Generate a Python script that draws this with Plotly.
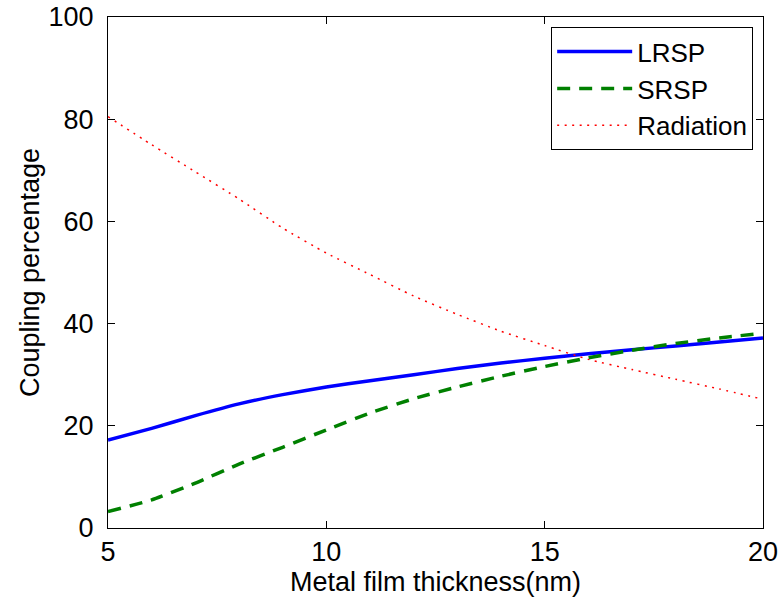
import plotly.graph_objects as go

thickness = [5, 6, 7, 8, 9, 10, 11, 12, 13, 14, 15, 16, 17, 18, 19, 20]
lrsp = [17.2, 19.5, 22.0, 24.3, 26.1, 27.6, 28.8, 30.0, 31.2, 32.3, 33.2, 34.1, 34.9, 35.6, 36.4, 37.2]
srsp = [3.2, 5.5, 8.8, 12.5, 15.8, 19.2, 22.5, 25.3, 27.6, 29.7, 31.6, 33.3, 34.8, 36.1, 37.2, 38.1]
radiation = [80.5, 75.0, 69.7, 64.4, 58.7, 53.8, 49.6, 45.4, 41.8, 38.5, 35.7, 33.0, 31.0, 29.1, 27.2, 25.2]
x_ticks = [5, 10, 15, 20]
y_ticks = [0, 20, 40, 60, 80, 100]

fig = go.Figure()
fig.add_trace(go.Scatter(x=thickness, y=lrsp, mode="lines", name="LRSP",
                         line=dict(color="#0000ff", width=3.5, shape="spline", smoothing=0.5)))
fig.add_trace(go.Scatter(x=thickness, y=srsp, mode="lines", name="SRSP",
                         line=dict(color="#008000", width=3.5, dash="13px,9px", shape="spline", smoothing=0.5)))
fig.add_trace(go.Scatter(x=thickness, y=radiation, mode="lines", name="Radiation",
                         line=dict(color="#ff0000", width=1.5, dash="2px,5.5px", shape="spline", smoothing=0.5)))

font = "Liberation Sans, Arial, sans-serif"
axis_common = dict(showline=True, linecolor="black", linewidth=1, mirror="ticks",
                   ticks="inside", ticklen=7, tickcolor="black", showgrid=False,
                   zeroline=False, automargin=False, ticklabeloverflow="allow",
                   tickfont=dict(family=font, size=27, color="black"))

fig.update_layout(
    width=780, height=598,
    margin=dict(l=108, r=17, t=17, b=70),
    paper_bgcolor="white", plot_bgcolor="white",
    font=dict(family=font, size=27, color="black"),
    xaxis=dict(range=[5, 20], tickvals=x_ticks,
               title=dict(text="Metal film thickness(nm)", font=dict(family=font, size=27), standoff=0),
               **axis_common),
    yaxis=dict(range=[0, 100], tickvals=y_ticks, ticklabelstandoff=8,
               title=dict(text="Coupling percentage", font=dict(family=font, size=27), standoff=1),
               **axis_common),
    legend=dict(x=0.985, y=0.98, xanchor="right", yanchor="top",
                bgcolor="white", bordercolor="black", borderwidth=1,
                font=dict(family=font, size=26), tracegroupgap=0, itemwidth=75),
    showlegend=True,
)

fig.write_html("out.html", config={"displayModeBar": False},
               post_script="document.body.style.margin='0px';")
